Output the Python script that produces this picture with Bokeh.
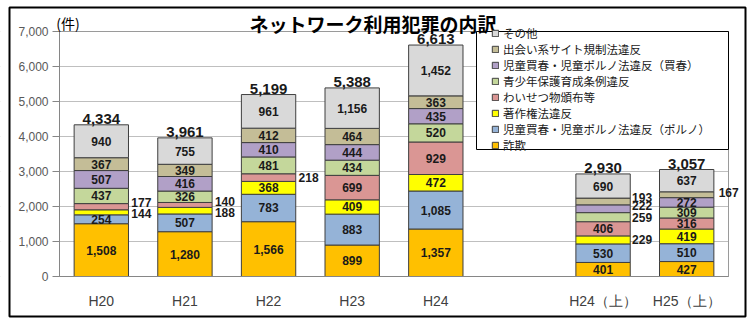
import numpy as np
from bokeh.plotting import figure
from bokeh.models import (Range1d, FixedTicker, NumeralTickFormatter,
                          Legend, LegendItem, Label, BoxAnnotation, ColumnDataSource)
from bokeh.core.properties import value
from bokeh.embed import file_html
from bokeh.resources import INLINE

# ---------------- data ----------------
categories = ["H20", "H21", "H22", "H23", "H24", "H24（上）", "H25（上）"]
axis_factors = ["H20", "H21", "H22", "H23", "H24", "", "H24（上）", "H25（上）"]
series_names = ["詐欺", "児童買春・児童ポルノ法違反（ポルノ）", "著作権法違反", "わいせつ物頒布等",
                "青少年保護育成条例違反", "児童買春・児童ポルノ法違反（買春）", "出会い系サイト規制法違反", "その他"]
fraud = [1508, 1280, 1566, 899, 1357, 401, 427]
porn = [254, 507, 783, 883, 1085, 530, 510]
copyright_ = [144, 188, 368, 409, 472, 229, 419]
obscene = [177, 140, 218, 699, 929, 406, 316]
youth = [437, 326, 481, 434, 520, 259, 309]
prostitution = [507, 416, 410, 444, 435, 222, 272]
dating = [367, 349, 412, 464, 363, 193, 167]
other = [940, 755, 961, 1156, 1452, 690, 637]
totals = [4334, 3961, 5199, 5388, 6613, 2930, 3057]
y_ticks = [0, 1000, 2000, 3000, 4000, 5000, 6000, 7000]
title_text = "ネットワーク利用犯罪の内訳"
unit_text = "(件)"

colors = ["#FFC000", "#95B3D7", "#FFFF00", "#DA9694", "#C4D79B", "#B1A0C7", "#C4BD97", "#D9D9D9"]

# labels drawn beside the bar: (category, series index) -> (x px offset, y px nudge)
outside = {("H20", 3): (30, -4), ("H20", 2): (30, 1),
           ("H21", 3): (30, -3), ("H21", 2): (30, 2),
           ("H22", 3): (30, 0),
           ("H24（上）", 6): (29, -4), ("H24（上）", 5): (29, -3),
           ("H24（上）", 4): (29, 0), ("H24（上）", 2): (29, 0),
           ("H25（上）", 6): (32, -2)}

# ---------------- layout (pixels) ----------------
W, H = 753, 324
PL, PR, PT, PB = 59, 728, 31, 276          # plot area
YMAX = 7000
slot = (PR - PL) / len(axis_factors)
ppu = (PB - PT) / YMAX
x_start = -0.5 - PL / slot
x_end = -0.5 + (W - PL) / slot
y_start = -(H - PB) / ppu
y_end = PB / ppu


def dx(px):
    return x_start + px / slot


def dy(py):
    return (PB - py) / ppu


series = [fraud, porn, copyright_, obscene, youth, prostitution, dating, other]
keys = ["s%d" % i for i in range(len(series))]
xpos = [axis_factors.index(c) for c in categories]
data = {"x": xpos, "cat": categories}
for k, s in zip(keys, series):
    data[k] = s
src = ColumnDataSource(data)

NUM_FONT = "Liberation Sans"
CJK_FONT = "Noto Sans CJK JP"

p = figure(width=W, height=H, x_range=Range1d(x_start, x_end), y_range=Range1d(y_start, y_end),
           output_backend="svg", toolbar_location=None,
           min_border=0, min_border_left=0, min_border_right=0, min_border_top=0, min_border_bottom=0)
p.background_fill_color = "white"
p.border_fill_color = "white"
p.outline_line_color = None

# gridlines (clipped to plot area with white masks)
p.xgrid.grid_line_color = None
p.ygrid.ticker = FixedTicker(ticks=y_ticks)
p.ygrid.grid_line_color = "#BFBFBF"
p.add_layout(BoxAnnotation(right=-0.5, bottom=-50, top=YMAX + 50, fill_color="white", fill_alpha=1,
                           line_alpha=0, level="underlay"))
p.add_layout(BoxAnnotation(left=len(axis_factors) - 0.5, bottom=-50, top=YMAX + 50, fill_color="white",
                           fill_alpha=1, line_alpha=0, level="underlay"))
# plot-area border
p.add_layout(BoxAnnotation(left=-0.5, right=len(axis_factors) - 0.5, bottom=0, top=YMAX,
                           fill_alpha=0, line_color="#9A9A9A", line_width=1, line_alpha=1,
                           level="underlay"))

renderers = p.vbar_stack(keys, x="x", width=0.65, source=src, color=colors,
                         line_color="#3F3F3F", line_width=1)

# axes
p.yaxis.fixed_location = -0.5
p.yaxis.bounds = (0, YMAX)
p.yaxis.ticker = FixedTicker(ticks=y_ticks)
p.yaxis.formatter = NumeralTickFormatter(format="0,0")
p.yaxis.axis_line_color = "#868686"
p.yaxis.major_tick_line_color = "#868686"
p.yaxis.major_tick_out = 7
p.yaxis.major_tick_in = 0
p.yaxis.minor_tick_line_color = None
p.yaxis.major_label_standoff = 4
p.yaxis.major_label_text_font = NUM_FONT
p.yaxis.major_label_text_font_size = "12px"
p.yaxis.major_label_text_color = "#595959"

p.xaxis.fixed_location = 0
p.xaxis.bounds = (-0.5, len(axis_factors) - 0.5)
p.xaxis.ticker = FixedTicker(ticks=list(range(len(axis_factors))))
p.xaxis.major_label_overrides = {i: f for i, f in enumerate(axis_factors)}
p.xaxis.axis_line_color = "#868686"
p.xaxis.major_tick_line_color = None
p.xaxis.minor_tick_line_color = None
p.xaxis.major_tick_out = 0
p.xaxis.major_tick_in = 0
p.xaxis.major_label_standoff = 16
p.xaxis.major_label_text_font = NUM_FONT
p.xaxis.major_label_text_font_size = "14px"
p.xaxis.major_label_text_color = "#404040"

# segment labels
arr = np.array(series, dtype=float)
tops = np.cumsum(arr, axis=0)
bottoms = tops - arr
in_x, in_y, in_t = [], [], []
out_x, out_y, out_t, out_dx, out_dy = [], [], [], [], []
for si in range(arr.shape[0]):
    for ci, cat in enumerate(categories):
        v = int(arr[si, ci])
        yc = (tops[si, ci] + bottoms[si, ci]) / 2
        txt = f"{v:,}"
        if (cat, si) in outside:
            ox, oy = outside[(cat, si)]
            out_x.append(xpos[ci]); out_y.append(yc); out_t.append(txt)
            out_dx.append(ox); out_dy.append(oy)
        else:
            in_x.append(xpos[ci]); in_y.append(yc); in_t.append(txt)

p.text(x=in_x, y=in_y, text=in_t, text_align="center", text_baseline="middle",
       text_font=value(NUM_FONT), text_font_style="bold", text_font_size="12px",
       text_color="#1A1A1A")
osrc = ColumnDataSource(dict(x=out_x, y=out_y, text=out_t, dx=out_dx, dy=out_dy))
p.text(x="x", y="y", text="text", x_offset="dx", y_offset="dy", source=osrc,
       text_align="left", text_baseline="middle",
       text_font=value(NUM_FONT), text_font_style="bold", text_font_size="12px",
       text_color="#1A1A1A")
p.text(x=xpos, y=totals, text=[f"{t:,}" for t in totals], y_offset=-1,
       text_align="center", text_baseline="bottom",
       text_font=value(NUM_FONT), text_font_style="bold", text_font_size="15px",
       text_color="#1A1A1A")

# legend box + legend
p.add_layout(BoxAnnotation(left=dx(476), right=len(axis_factors) - 0.5, bottom=dy(149), top=YMAX,
                           fill_color="white", fill_alpha=1.0,
                           line_color="#000000", line_width=1, line_alpha=1.0))
items = [LegendItem(label=series_names[i], renderers=[renderers[i]])
         for i in reversed(range(len(series_names)))]
legend = Legend(items=items, location=(491, H - 153), margin=0, padding=0, spacing=0,
                label_height=15, glyph_width=8, glyph_height=8, label_standoff=4,
                label_width=225, label_text_font=CJK_FONT, label_text_font_size="11.5px",
                label_text_color="#1A1A1A", border_line_color=None, background_fill_alpha=0)
p.add_layout(legend)

# title and unit
p.add_layout(Label(x=dx(372.5), y=dy(22.5), text=title_text, text_align="center",
                   text_baseline="middle", text_font=CJK_FONT, text_font_style="bold",
                   text_font_size="19px", text_color="#000000"))
p.add_layout(Label(x=dx(67.5), y=dy(22), text=unit_text, text_align="center",
                   text_baseline="middle", text_font=CJK_FONT,
                   text_font_size="14px", text_color="#000000"))

# outer frame
p.add_layout(BoxAnnotation(left=dx(9), right=dx(745), top=dy(7), bottom=dy(316),
                           fill_alpha=0, line_color="black", line_width=2, line_alpha=1.0))

open("out.html", "w").write(file_html(p, INLINE))
